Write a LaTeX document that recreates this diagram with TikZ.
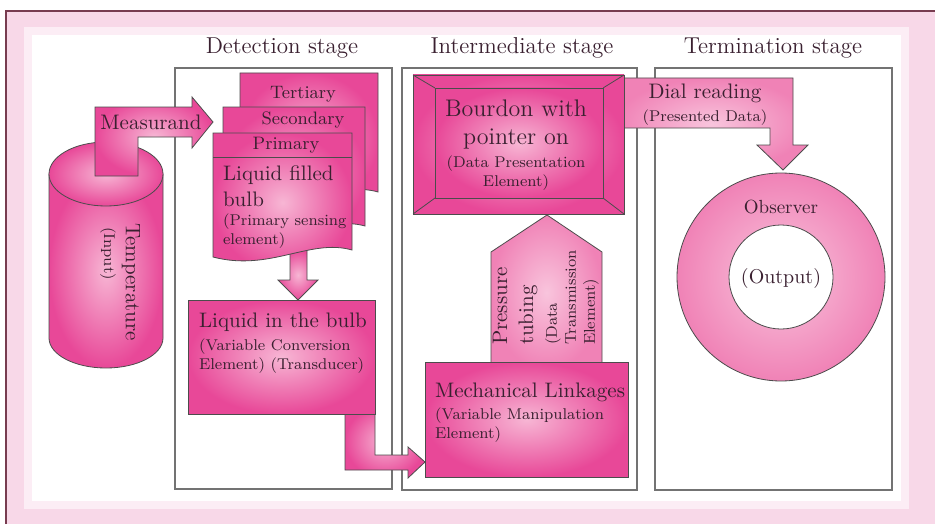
\documentclass[tikz,border=0pt]{standalone}

\definecolor{pinkD}{RGB}{232,72,152}
\definecolor{pinkM}{RGB}{240,130,182}
\definecolor{pinkL}{RGB}{247,182,212}
\definecolor{bgpink}{RGB}{248,216,232}
\definecolor{framecol}{RGB}{120,60,80}
\definecolor{txt}{RGB}{58,32,48}

\tikzset{
  blob/.style = {draw = black!70, line width = 0.4pt, inner color = pinkL, outer color = pinkD},
  soft/.style = {draw = black!70, line width = 0.4pt, inner color = pinkL!80!white, outer color = pinkM},
  stagebox/.style = {draw = black!55, line width = 0.7pt},
  title/.style = {text = txt, font = {\fontsize{11.5pt}{14}\selectfont}},
  bigtxt/.style = {text = txt, align = left, font = {\fontsize{10.5pt}{13}\selectfont}},
  doctxt/.style = {text = txt, font = {\fontsize{9pt}{11}\selectfont}},
  smalltxt/.style = {text = txt, align = left, font = {\fontsize{7.8pt}{9.5}\selectfont}}
}

\begin{document}
\begin{tikzpicture}[x = 0.5pt, y = -0.5pt]
\useasboundingbox (0,0) rectangle (935,524);
\fill[bgpink] (6,11) rectangle (935,524);
\draw[framecol, line width = 1pt] (6,524) -- (6,11) -- (935,11);
\fill[bgpink!45!white] (24,27) rectangle (909,509);
\fill[white] (32,35) rectangle (901,501);

% the three stages
\draw[stagebox] (175,68) rectangle (392,489);
\draw[stagebox] (402,68) rectangle (637,490);
\draw[stagebox] (655,68) rectangle (892,490);
\node[title] (DETT) at (282,48) {Detection stage};
\node[title] (INTT) at (522,48) {Intermediate stage};
\node[title] (TRMT) at (773,48) {Termination stage};

% input
\path[blob] (49,174) -- (49,338) arc [start angle = 180, end angle = 0, x radius = 57, y radius = 30] -- (163,174) -- cycle;
\path[blob] (106,174) ellipse [x radius = 57, y radius = 32];
\node[bigtxt, rotate = -90, anchor = west] (TEMP) at (131,216) {Temperature};
\node[smalltxt, rotate = -90, anchor = west] (INP) at (108,220) {(Input)};

\path[blob] (95,176) -- (95,107) -- (192,107) -- (192,97) -- (213,122) -- (192,148) -- (192,137) -- (138,137) -- (138,176) -- cycle;
\node[bigtxt] (MEAS) at (151,122) {Measurand};

% sensing elements
\path[blob] (240,73) -- (378,73) -- (378,192) .. controls (345,182) and (290,205) .. (240,195) -- cycle;
\node[doctxt] (TER) at (303,94) {Tertiary};
\path[blob] (223,107) -- (365,107) -- (365,226) .. controls (330,216) and (275,240) .. (223,230) -- cycle;
\node[doctxt] (SEC) at (303,120) {Secondary};
\path[blob] (290,250) -- (290,280) -- (278,280) -- (298,300) -- (318,280) -- (307,280) -- (307,250) -- cycle;
\path[blob] (213,133) -- (352,133) -- (352,250) .. controls (310,238) and (270,272) .. (213,257) -- cycle;
\draw[black!70] (213,157) -- (352,157);
\node[doctxt] (PRI) at (286,145) {Primary};
\node[bigtxt, anchor = west] (BULB) at (216,186) {Liquid filled\\bulb};
\node[smalltxt, anchor = west] (BULBS) at (216,231) {(Primary sensing\\element)};

% transducer
\path[blob] (345,405) -- (345,470) -- (408,470) -- (408,478) -- (425,462) -- (408,447) -- (408,455) -- (375,455) -- (375,405) -- cycle;
\path[blob] (188,300) rectangle (375,414);
\node[bigtxt, anchor = west] (LIQ) at (192,322) {Liquid in the bulb};
\node[smalltxt, anchor = west] (LIQS) at (192,356) {(Variable Conversion\\Element) (Transducer)};

% intermediate
\path[soft] (491,370) -- (491,252) -- (547,215) -- (602,252) -- (602,370) -- cycle;
\node[bigtxt, rotate = 90, anchor = west] (PRES) at (515,352) {Pressure\\tubing};
\node[smalltxt, rotate = 90, anchor = west] (PRESS) at (572,352) {(Data\\Transmission\\Element)};
\path[blob] (425,362) rectangle (628,477);
\node[bigtxt, anchor = west] (MECH) at (428,392) {Mechanical Linkages};
\node[smalltxt, anchor = west] (MECHS) at (428,425) {(Variable Manipulation\\Element)};

\path[soft] (615,78) -- (793,78) -- (793,145) -- (808,145) -- (783,170) -- (757,145) -- (770,145) -- (770,128) -- (615,128) -- cycle;
\node[bigtxt] (DIAL) at (705,93) {Dial reading};
\node[smalltxt] (DIALS) at (705,118) {(Presented Data)};

\path[blob] (413,75) rectangle (624,214);
\draw[black!70] (413,75) -- (435,88) (624,75) -- (603,88) (413,214) -- (435,198) (624,214) -- (603,198);
\path[blob] (435,88) rectangle (603,198);
\node[bigtxt, align = center, font = {\fontsize{12pt}{14}\selectfont}] (BOUR) at (516,124) {Bourdon with\\pointer on};
\node[smalltxt, align = center] (BOURS) at (516,173) {(Data Presentation\\Element)};

% output
\path[soft] (781,277) circle [radius = 104];
\draw[black!70, fill = white] (781,277) circle [radius = 52];
\node[doctxt, font = {\fontsize{9.5pt}{11}\selectfont}] (OBS) at (781,207) {Observer};
\node[doctxt, font = {\fontsize{10pt}{12}\selectfont}] (OUT) at (781,278) {(Output)};
\end{tikzpicture}
\end{document}
